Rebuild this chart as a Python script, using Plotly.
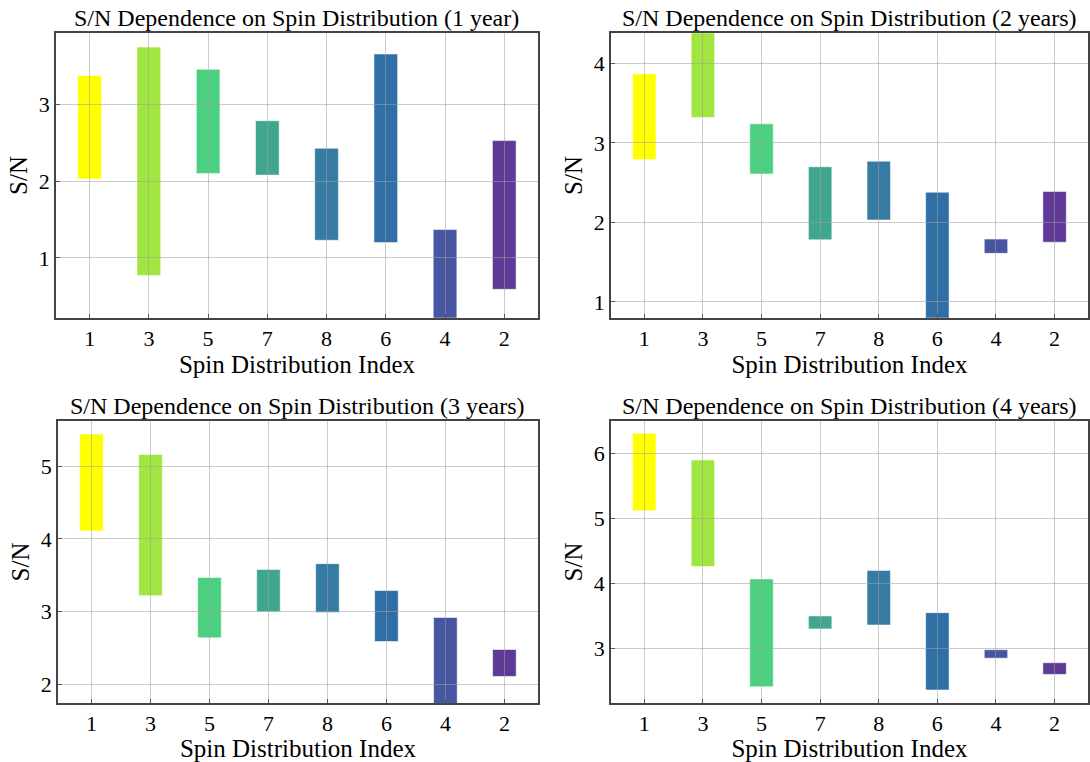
import plotly.graph_objects as go

# Spin distribution indices, in display order
categories = ["1", "3", "5", "7", "8", "6", "4", "2"]
bar_colors = ["#FFFF00", "#A0E540", "#4AD07E", "#40A690",
              "#357BA2", "#306FA5", "#4656A0", "#5E3A96"]

# S/N ranges (low, high) per observing time
low_1yr = [2.03, 0.77, 2.10, 2.08, 1.23, 1.20, 0.10, 0.59]
high_1yr = [3.38, 3.75, 3.46, 2.79, 2.43, 3.66, 1.37, 2.53]

low_2yr = [2.79, 3.32, 2.61, 1.78, 2.03, 0.70, 1.61, 1.75]
high_2yr = [3.87, 4.50, 3.24, 2.70, 2.77, 2.38, 1.79, 2.39]

low_3yr = [4.11, 3.22, 2.64, 3.00, 2.99, 2.59, 1.60, 2.11]
high_3yr = [5.44, 5.16, 3.47, 3.58, 3.66, 3.29, 2.92, 2.48]

low_4yr = [5.12, 4.26, 2.41, 3.30, 3.36, 2.36, 2.85, 2.60]
high_4yr = [6.31, 5.90, 4.07, 3.50, 4.20, 3.55, 2.98, 2.78]

panels = [
    ("S/N Dependence on Spin Distribution (1 year)", low_1yr, high_1yr, [0.22, 3.93]),
    ("S/N Dependence on Spin Distribution (2 years)", low_2yr, high_2yr, [0.80, 4.38]),
    ("S/N Dependence on Spin Distribution (3 years)", low_3yr, high_3yr, [1.745, 5.62]),
    ("S/N Dependence on Spin Distribution (4 years)", low_4yr, high_4yr, [2.16, 6.50]),
]

W, H = 1090, 762
x_domains = [[56 / W, 539 / W], [612 / W, 1.0], [58 / W, 539 / W], [612 / W, 1.0]]
y_domains = [[1 - 317.7 / H, 1 - 33.3 / H], [1 - 317.7 / H, 1 - 33.3 / H],
             [1 - 703 / H, 1 - 421 / H], [1 - 703 / H, 1 - 421 / H]]
X_RANGE = [-0.57, 7.57]

FONT = "Liberation Serif"
GRID = "rgba(160,160,160,0.55)"
fig = go.Figure()


def ax_name(kind, n):
    return kind if n == 1 else f"{kind}{n}"


for i, (title, lo, hi, yr) in enumerate(panels):
    n = i + 1
    xa, ya = ax_name("x", n), ax_name("y", n)
    fig.add_trace(go.Bar(
        x=categories,
        y=[h - l for l, h in zip(lo, hi)],
        base=lo,
        marker=dict(color=bar_colors, line=dict(color="rgba(255,255,255,0.55)", width=1)),
        xaxis=xa, yaxis=ya, showlegend=False,
    ))
    axis_common = dict(
        showline=True, mirror=True, linecolor="#444444", linewidth=1.5,
        ticks="inside", ticklen=4, tickcolor="#000000", tickwidth=1,
        showgrid=False, zeroline=False, layer="above traces",
        tickfont=dict(family=FONT, size=22, color="#000000"),
    )
    fig.layout["xaxis" + ("" if n == 1 else str(n))] = dict(
        axis_common, domain=x_domains[i], anchor=ya,
        type="category", range=X_RANGE,
        title=dict(text="Spin Distribution Index", standoff=1,
                   font=dict(family=FONT, size=25, color="#000000")),
    )
    fig.layout["yaxis" + ("" if n == 1 else str(n))] = dict(
        axis_common, domain=y_domains[i], anchor=xa,
        range=yr, dtick=1, tick0=0,
        title=dict(text="S/N", standoff=4,
                   font=dict(family=FONT, size=25, color="#000000")),
    )

    # A companion subplot on the same area, drawn later, carries the grid
    # so the grid lines sit on top of the bars.
    g = n + 4
    gx, gy = ax_name("x", g), ax_name("y", g)
    grid_common = dict(
        showgrid=True, gridcolor=GRID, gridwidth=1, zeroline=False,
        showticklabels=False, ticks="", showline=False, fixedrange=True,
    )
    fig.layout[f"xaxis{g}"] = dict(grid_common, domain=x_domains[i], anchor=gy,
                                   range=X_RANGE, tick0=0, dtick=1)
    fig.layout[f"yaxis{g}"] = dict(grid_common, domain=y_domains[i], anchor=gx,
                                   range=yr, tick0=0, dtick=1)
    fig.add_trace(go.Scatter(x=[None], y=[None], xaxis=gx, yaxis=gy,
                             showlegend=False, hoverinfo="skip"))

    xd = x_domains[i]
    fig.add_annotation(
        text=title, xref="paper", yref="paper",
        x=(xd[0] + xd[1]) / 2, y=y_domains[i][1],
        xanchor="center", yanchor="bottom", yshift=0, showarrow=False,
        font=dict(family=FONT, size=24, color="#000000"),
    )

fig.update_layout(
    width=W, height=H,
    margin=dict(l=0, r=0, t=0, b=0),
    paper_bgcolor="white", plot_bgcolor="rgba(0,0,0,0)",
    bargap=0.6,
    font=dict(family=FONT, color="#000000"),
)

fig.write_html("out.html")
